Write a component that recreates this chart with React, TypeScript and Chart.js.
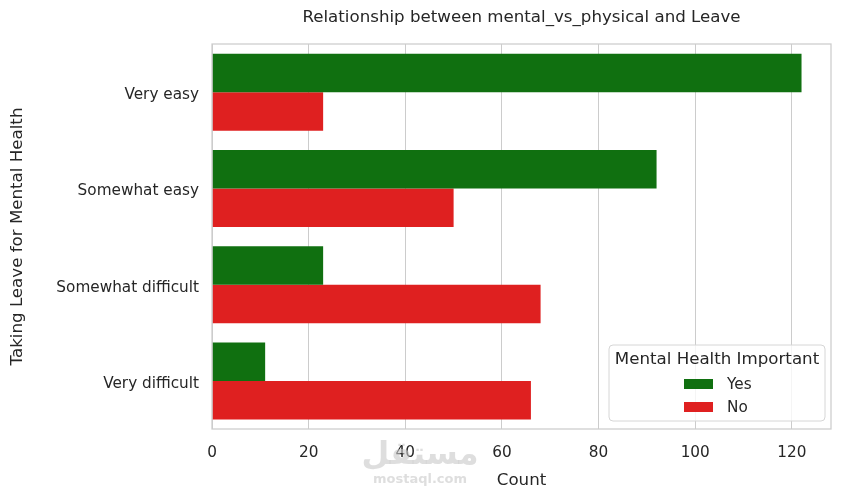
import React, { useEffect, useRef } from "react";
import { Chart, registerables } from "chart.js";

Chart.register(...registerables);

// Survey answers: how easy it is to take leave for a mental health condition
const categories = ["Very easy", "Somewhat easy", "Somewhat difficult", "Very difficult"];
// Respondents who think mental health is as important as physical health
const yesCounts = [122, 92, 23, 11];
const noCounts = [23, 50, 68, 66];
const xTicks = [0, 20, 40, 60, 80, 100, 120];
const seriesNames = ["Yes", "No"];

const GREEN = "#107010";
const RED = "#df2020";
const TEXT = "#262626";
const GRID = "#cccccc";
const FONT = "'DejaVu Sans', 'Liberation Sans', sans-serif";
const LABEL_SIZE = 16.67;
const TICK_SIZE = 15.28;

const W = 842;
const H = 499;

const decorations = {
  id: "decorations",
  beforeDraw(chart: any) {
    const { ctx } = chart;
    ctx.save();
    ctx.fillStyle = "#ffffff";
    ctx.fillRect(0, 0, chart.width, chart.height);
    ctx.restore();
  },
  afterDatasetsDraw(chart: any) {
    const { ctx, chartArea: a } = chart;
    ctx.save();
    ctx.strokeStyle = GRID;
    ctx.lineWidth = 1.25;
    ctx.strokeRect(a.left, a.top, a.right - a.left, a.bottom - a.top);
    ctx.restore();
  },
  afterDraw(chart: any) {
    const { ctx, chartArea: a } = chart;
    ctx.save();

    // title
    ctx.fillStyle = TEXT;
    ctx.font = `${LABEL_SIZE}px ${FONT}`;
    ctx.textAlign = "center";
    ctx.textBaseline = "middle";
    ctx.fillText("Relationship between mental_vs_physical and Leave", (a.left + a.right) / 2, 18);

    // legend box in the lower right of the plot
    const bx = 609, by = 345, bw = 216, bh = 76, r = 4;
    ctx.beginPath();
    ctx.moveTo(bx + r, by);
    ctx.lineTo(bx + bw - r, by);
    ctx.quadraticCurveTo(bx + bw, by, bx + bw, by + r);
    ctx.lineTo(bx + bw, by + bh - r);
    ctx.quadraticCurveTo(bx + bw, by + bh, bx + bw - r, by + bh);
    ctx.lineTo(bx + r, by + bh);
    ctx.quadraticCurveTo(bx, by + bh, bx, by + bh - r);
    ctx.lineTo(bx, by + r);
    ctx.quadraticCurveTo(bx, by, bx + r, by);
    ctx.closePath();
    ctx.fillStyle = "rgba(255,255,255,0.8)";
    ctx.fill();
    ctx.strokeStyle = "#d6d6d6";
    ctx.lineWidth = 1;
    ctx.stroke();

    ctx.fillStyle = TEXT;
    ctx.font = `${LABEL_SIZE}px ${FONT}`;
    ctx.textAlign = "center";
    ctx.fillText("Mental Health Important", bx + bw / 2, by + 15);

    const colors = [GREEN, RED];
    ctx.font = `${TICK_SIZE}px ${FONT}`;
    ctx.textAlign = "left";
    seriesNames.forEach((name, i) => {
      const cy = by + 39 + i * 23;
      ctx.fillStyle = colors[i];
      ctx.fillRect(684, cy - 5, 29, 10);
      ctx.fillStyle = TEXT;
      ctx.fillText(name, 727, cy + 1);
    });

    // site mark under the axis
    ctx.textAlign = "center";
    ctx.fillStyle = "rgba(200,200,200,0.6)";
    ctx.font = `bold 32px ${FONT}`;
    ctx.fillText("مستقل", 420, 456);
    ctx.font = `bold 13px ${FONT}`;
    ctx.fillText("mostaql.com", 420, 480);

    ctx.restore();
  },
};

export default function App() {
  const ref = useRef<HTMLCanvasElement | null>(null);

  useEffect(() => {
    if (!ref.current) return;
    const chart = new Chart(ref.current, {
      type: "bar",
      data: {
        labels: categories,
        datasets: [
          {
            label: seriesNames[0],
            data: yesCounts,
            backgroundColor: GREEN,
            borderWidth: 0,
            categoryPercentage: 0.8,
            barPercentage: 1.0,
          },
          {
            label: seriesNames[1],
            data: noCounts,
            backgroundColor: RED,
            borderWidth: 0,
            categoryPercentage: 0.8,
            barPercentage: 1.0,
          },
        ],
      },
      options: {
        indexAxis: "y",
        responsive: false,
        animation: false,
        devicePixelRatio: 1,
        layout: { padding: { top: 44, right: 11, bottom: 8, left: 0 } },
        plugins: {
          legend: { display: false },
          title: { display: false },
          tooltip: { enabled: false },
        },
        scales: {
          x: {
            type: "linear",
            min: 0,
            max: 128.1,
            grid: { color: GRID, lineWidth: 1, drawTicks: false },
            border: { display: false },
            afterBuildTicks: (scale: any) => {
              scale.ticks = xTicks.map((v) => ({ value: v }));
            },
            afterFit: (scale: any) => {
              scale.height = 62;
            },
            ticks: {
              color: TEXT,
              font: { family: FONT, size: TICK_SIZE },
              padding: 15,
              maxRotation: 0,
            },
            title: {
              display: true,
              text: "Count",
              color: TEXT,
              font: { family: FONT, size: LABEL_SIZE },
              padding: { top: 0, bottom: 0 },
            },
          },
          y: {
            type: "category",
            grid: { display: false, drawTicks: false },
            border: { display: false },
            afterFit: (scale: any) => {
              scale.width = 212;
            },
            ticks: {
              color: TEXT,
              font: { family: FONT, size: TICK_SIZE },
              padding: 13,
              labelOffset: 3,
            },
            title: {
              display: true,
              text: "Taking Leave for Mental Health",
              color: TEXT,
              font: { family: FONT, size: LABEL_SIZE },
              padding: { top: 8, bottom: 0 },
            },
          },
        },
      },
      plugins: [decorations],
    });
    return () => chart.destroy();
  }, []);

  return (
    <div style={{ position: "fixed", left: 0, top: 0, width: W, height: H, background: "#fff" }}>
      <canvas ref={ref} width={W} height={H} style={{ display: "block" }} />
    </div>
  );
}
